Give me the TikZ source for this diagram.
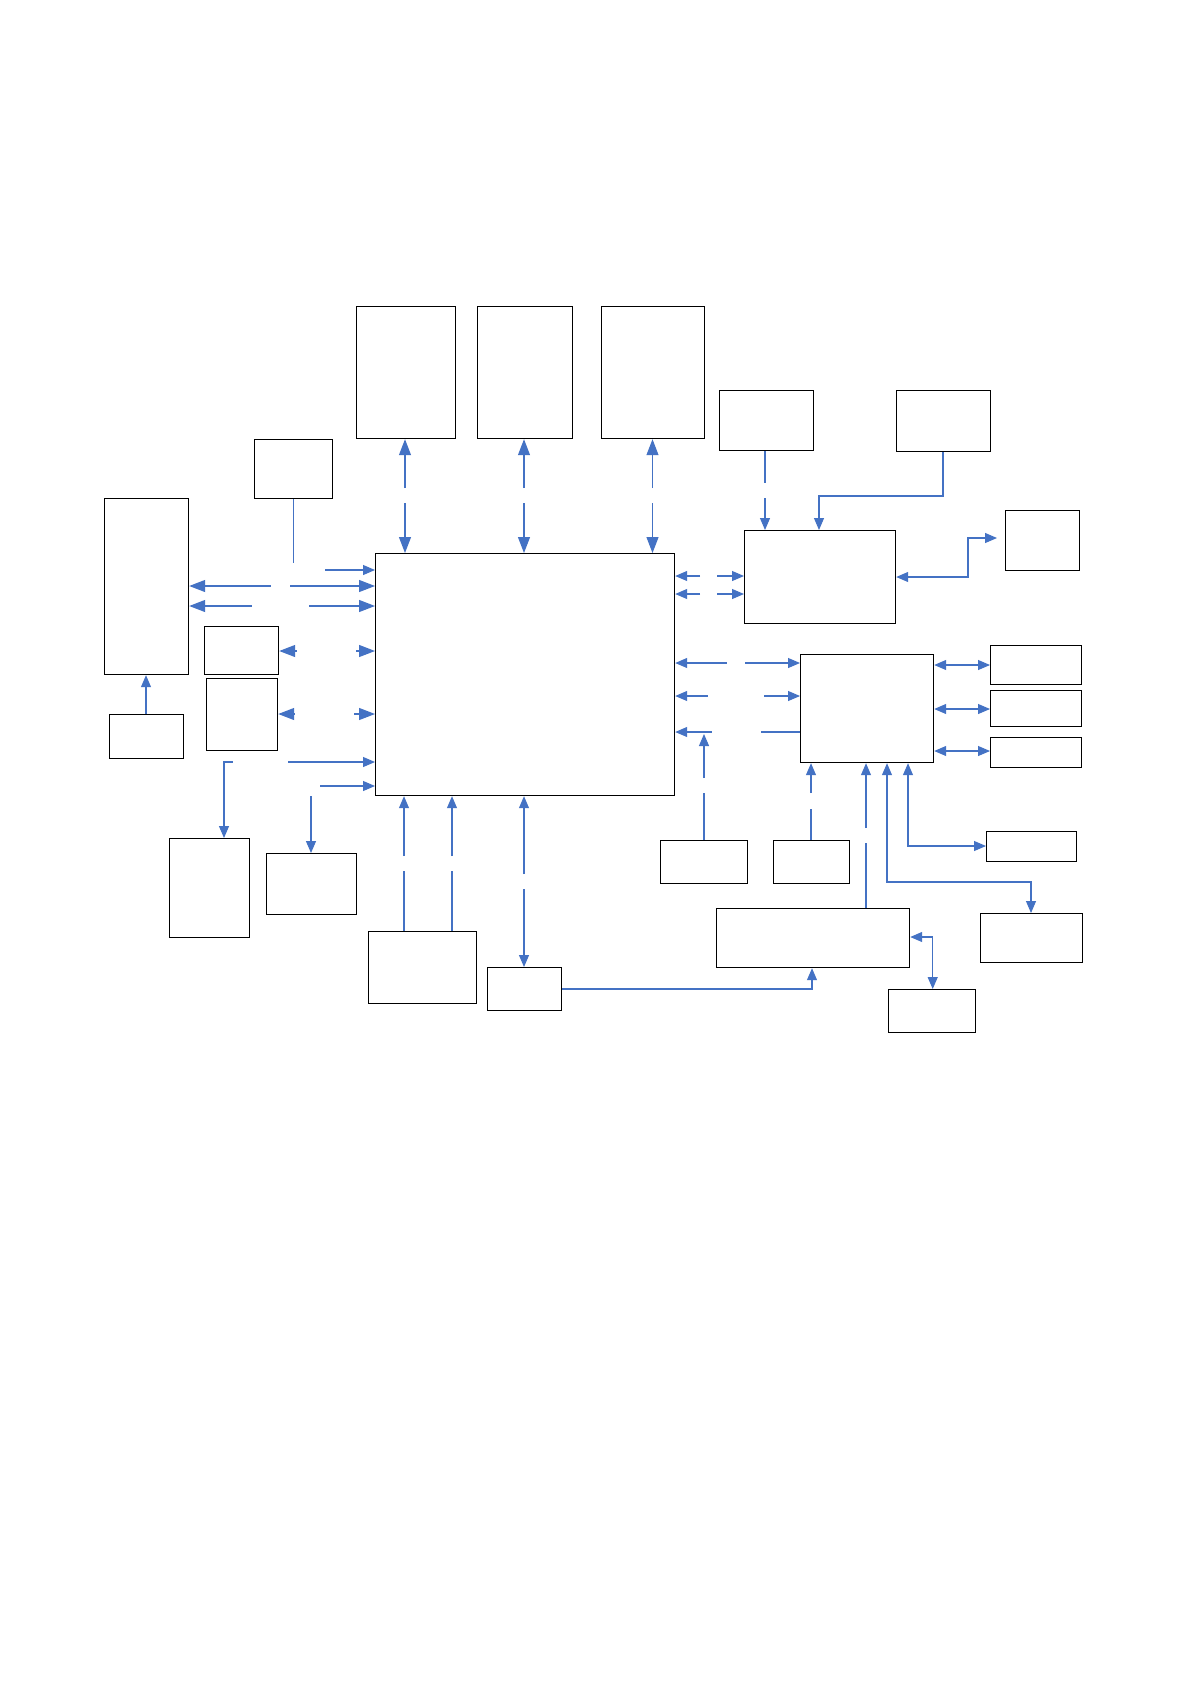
\documentclass[tikz,border=0pt]{standalone}
\usetikzlibrary{arrows.meta}
\definecolor{lnblue}{HTML}{4472C4}
\tikzset{
  box/.style={draw=black,line width=1.2pt,inner sep=0pt,anchor=north west,fill=white},
  ln/.style={draw=lnblue,line width=1.1pt},
  arr/.style={ln,-{Triangle[length=16pt,width=12pt]}},
  sarr/.style={ln,-{Triangle[length=12pt,width=10pt]}},
  darr/.style={ln,{Triangle[length=12pt,width=10pt]}-{Triangle[length=12pt,width=10pt]}}
}
\begin{document}
\begin{tikzpicture}[x=1pt,y=-1pt]
\useasboundingbox[fill=white] (0,0) rectangle (1191,1684);
% boxes
\node[box,minimum width=99pt,minimum height=132pt] (T1) at (356,306) {};
\node[box,minimum width=95pt,minimum height=132pt] (T2) at (477,306) {};
\node[box,minimum width=103pt,minimum height=132pt] (T3) at (601,306) {};
\node[box,minimum width=78pt,minimum height=59pt] (S1) at (254,439) {};
\node[box,minimum width=84pt,minimum height=176pt] (L) at (104,498) {};
\node[box,minimum width=74pt,minimum height=48pt] (A) at (204,626) {};
\node[box,minimum width=71pt,minimum height=72pt] (B) at (206,678) {};
\node[box,minimum width=74pt,minimum height=44pt] (C) at (109,714) {};
\node[box,minimum width=299pt,minimum height=242pt] (M) at (375,553) {};
\node[box,minimum width=80pt,minimum height=99pt] (D) at (169,838) {};
\node[box,minimum width=90pt,minimum height=61pt] (E) at (266,853) {};
\node[box,minimum width=108pt,minimum height=72pt] (F) at (368,931) {};
\node[box,minimum width=74pt,minimum height=43pt] (G) at (487,967) {};
\node[box,minimum width=193pt,minimum height=59pt] (H) at (716,908) {};
\node[box,minimum width=87pt,minimum height=43pt] (I) at (888,989) {};
\node[box,minimum width=87pt,minimum height=43pt] (J) at (660,840) {};
\node[box,minimum width=76pt,minimum height=43pt] (K) at (773,840) {};
\node[box,minimum width=133pt,minimum height=108pt] (N) at (800,654) {};
\node[box,minimum width=90pt,minimum height=30pt] (Q) at (986,831) {};
\node[box,minimum width=102pt,minimum height=49pt] (P) at (980,913) {};
\node[box,minimum width=94pt,minimum height=60pt] (U1) at (719,390) {};
\node[box,minimum width=94pt,minimum height=61pt] (U2) at (896,390) {};
\node[box,minimum width=151pt,minimum height=93pt] (R) at (744,530) {};
\node[box,minimum width=74pt,minimum height=60pt] (S) at (1005,510) {};
\node[box,minimum width=91pt,minimum height=39pt] (V1) at (990,645) {};
\node[box,minimum width=91pt,minimum height=36pt] (V2) at (990,690) {};
\node[box,minimum width=91pt,minimum height=30pt] (V3) at (990,737) {};
% top boxes <-> main
\foreach \xx in {405,524,652.5}{
  \draw[arr] (\xx,488) -- (\xx,0 |- T1.south);
  \draw[arr] (\xx,503) -- (\xx,0 |- M.north);
}
% S1 -> M
\draw[ln] (293.6,0 |- S1.south) -- (293.6,563);
\draw[sarr] (325,570) -- (M.west |- 0,570);
% L <-> M
\draw[arr] (270.6,586) -- (L.east |- 0,586);
\draw[arr] (290,586) -- (M.west |- 0,586);
\draw[arr] (251.5,606) -- (L.east |- 0,606);
\draw[arr] (309,606) -- (M.west |- 0,606);
% A, B <-> M
\draw[arr] (296.6,651) -- (A.east |- 0,651);
\draw[arr] (356,651) -- (M.west |- 0,651);
\draw[arr] (294.7,714) -- (B.east |- 0,714);
\draw[arr] (354,714) -- (M.west |- 0,714);
% D, E
\draw[sarr] (288,762) -- (M.west |- 0,762);
\draw[sarr] (232.7,762) -- (224,762) -- (224,0 |- D.north);
\draw[sarr] (320,786) -- (M.west |- 0,786);
\draw[sarr] (311,796) -- (311,0 |- E.north);
% C -> L
\draw[sarr] (146,0 |- C.north) -- (146,0 |- L.south);
% F -> M
\foreach \xx in {404,452}{
  \draw[ln] (\xx,0 |- F.north) -- (\xx,871);
  \draw[sarr] (\xx,856) -- (\xx,0 |- M.south);
}
% G <-> M
\draw[sarr] (524,874) -- (524,0 |- M.south);
\draw[sarr] (524,889) -- (524,0 |- G.north);
% G -> H
\draw[sarr] (G.east |- 0,989) -- (812,989) -- (812,0 |- H.south);
% H <-> I
\draw[darr] (H.east |- 0,937) -- (932.7,937) -- (932.7,0 |- I.north);
% J -> M
\draw[ln] (704,0 |- J.north) -- (704,793);
\draw[sarr] (704,778) -- (704,734);
\draw[sarr] (711.7,732) -- (M.east |- 0,732);
\draw[ln] (N.west |- 0,732) -- (761,732);
% M <-> N
\draw[sarr] (726.7,663) -- (M.east |- 0,663);
\draw[sarr] (745,663) -- (N.west |- 0,663);
\draw[sarr] (707.7,696) -- (M.east |- 0,696);
\draw[sarr] (764,696) -- (N.west |- 0,696);
% M <-> R
\foreach \yy in {576,594}{
  \draw[sarr] (700,\yy) -- (M.east |- 0,\yy);
  \draw[sarr] (717,\yy) -- (R.west |- 0,\yy);
}
% U1, U2 -> R
\draw[ln] (765,0 |- U1.south) -- (765,483);
\draw[sarr] (765,498) -- (765,0 |- R.north);
\draw[sarr] (943,0 |- U2.south) -- (943,496) -- (819,496) -- (819,0 |- R.north);
% R <-> S
\draw[darr] (R.east |- 0,577) -- (968,577) -- (968,538) -- (997,538);
% N <-> V
\draw[darr] (N.east |- 0,665) -- (V1.west |- 0,665);
\draw[darr] (N.east |- 0,709) -- (V2.west |- 0,709);
\draw[darr] (N.east |- 0,751) -- (V3.west |- 0,751);
% K, H -> N
\draw[ln] (811,0 |- K.north) -- (811,809);
\draw[sarr] (811,793) -- (811,0 |- N.south);
\draw[ln] (866,0 |- H.north) -- (866,843);
\draw[sarr] (866,828) -- (866,0 |- N.south);
% N <-> P, Q
\draw[darr] (887,0 |- N.south) -- (887,882) -- (1031,882) -- (1031,0 |- P.north);
\draw[darr] (908,0 |- N.south) -- (908,846) -- (Q.west |- 0,846);
\end{tikzpicture}
\end{document}
